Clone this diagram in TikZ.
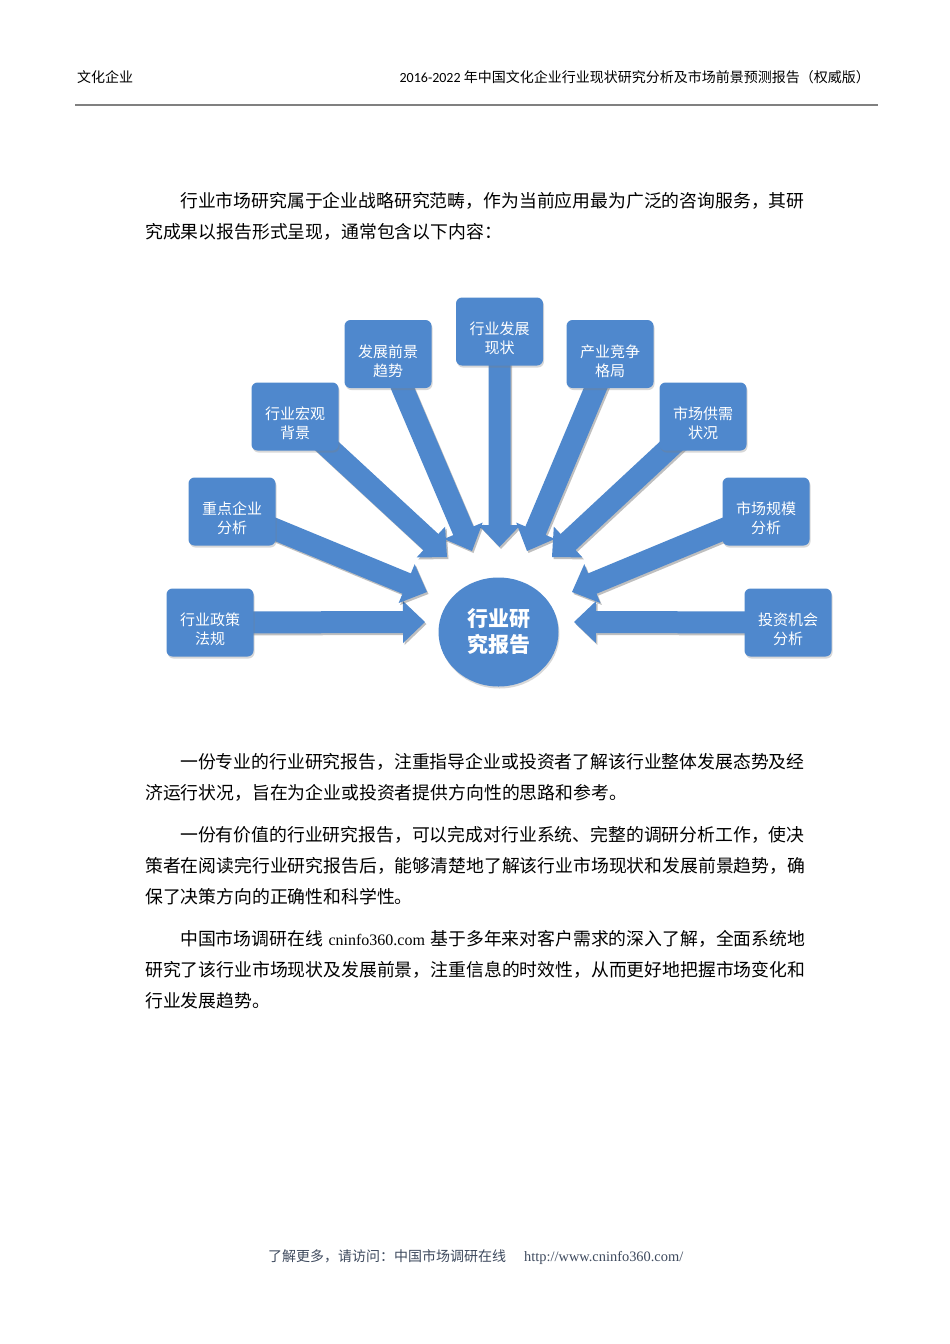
\documentclass[tikz,border=0pt]{standalone}
\usepackage{fontspec}
\setmainfont{Liberation Serif}
\newfontfamily\cjk{Noto Sans CJK SC}
\newfontfamily\hdrfont{Carlito}
\usetikzlibrary{calc,shadows,shapes.geometric}
\definecolor{boxblue}{HTML}{4F88CD}
\definecolor{footc}{HTML}{3E4A5E}
\definecolor{rulegray}{HTML}{808080}
\newcommand{\blockarrow}[2]{%
  \coordinate (hb) at ($(#2)!22pt!(#1)$);
  \foreach \sh/\col/\op in {{(1.5pt,-2pt)}/black/0.25,{(0pt,0pt)}/boxblue/1}{
    \fill[\col, fill opacity=\op, transform canvas={shift={\sh}}]
      ($(#1)!11pt!90:(#2)$) -- ($(hb)!11pt!90:(#2)$) -- ($(hb)!21pt!90:(#2)$)
      -- (#2) -- ($(hb)!21pt!-90:(#2)$) -- ($(hb)!11pt!-90:(#2)$)
      -- ($(#1)!11pt!-90:(#2)$) -- cycle;
  }%
}
\tikzset{
  infobox/.style={fill=boxblue, rounded corners=6pt, minimum width=87pt,
    minimum height=68pt, inner sep=0pt,
    drop shadow={shadow xshift=1pt, shadow yshift=-2pt, opacity=0.3}},
  boxlabel/.style={text=white, font=\cjk\fontsize{15}{19}\selectfont,
    align=center, inner sep=0pt},
  hub/.style={ellipse, fill=boxblue, minimum width=120pt, minimum height=109pt,
    inner sep=0pt, text=white, align=center,
    font=\cjk\bfseries\fontsize{21}{26}\selectfont,
    drop shadow={shadow xshift=1pt, shadow yshift=-2pt, opacity=0.3}},
  bodyline/.style={anchor=base west, inner sep=0pt,
    font=\cjk\fontsize{17.84}{20}\selectfont},
  headtext/.style={inner sep=0pt, font=\cjk\fontsize{14}{16}\selectfont},
}
\begin{document}
\begin{tikzpicture}[x=1pt,y=-1pt]
\useasboundingbox (0,0) rectangle (950,1344);
\fill[white] (0,0) rectangle (950,1344);

% header
\node[headtext, anchor=base west] (hl) at (77,82.5) {文化企业};
\node[headtext, anchor=base east] (hr) at (870,82.5)
  {{\hdrfont 2016-2022} 年中国文化企业行业现状研究分析及市场前景预测报告（权威版）};
\coordinate (rl) at (75,105);
\coordinate (rr) at (878,105);
\draw[rulegray, line width=1.5pt] (rl) -- (rr);

% intro paragraph
\node[bodyline] (p1a) at (180,207.5)
  {行业市场研究属于企业战略研究范畴，作为当前应用最为广泛的咨询服务，其研};
\node[bodyline] (p1b) at (145,238.5) {究成果以报告形式呈现，通常包含以下内容：};

% diagram coordinates
\coordinate (t1) at (425,622);
\coordinate (t2) at (427,592);
\coordinate (t3) at (447,557);
\coordinate (t4) at (472,551);
\coordinate (t5) at (499.5,547);
\coordinate (t6) at (527,551);
\coordinate (t7) at (552,557);
\coordinate (t8) at (572,592);
\coordinate (t9) at (574,622);

\coordinate (c1) at (210,622.5);
\coordinate (c2) at (232,511.5);
\coordinate (c3) at (295,416.5);
\coordinate (c4) at (388,354);
\coordinate (c5) at (499.5,331.5);
\coordinate (c6) at (610,354);
\coordinate (c7) at (703,416.5);
\coordinate (c8) at (766,511.5);
\coordinate (c9) at (788,622.5);

% arrows
\blockarrow{c1}{t1}
\blockarrow{c2}{t2}
\blockarrow{c3}{t3}
\blockarrow{c4}{t4}
\blockarrow{c5}{t5}
\blockarrow{c6}{t6}
\blockarrow{c7}{t7}
\blockarrow{c8}{t8}
\blockarrow{c9}{t9}

% boxes
\node[infobox] (b1) at (c1) {};
\node[infobox] (b2) at (c2) {};
\node[infobox] (b3) at (c3) {};
\node[infobox] (b4) at (c4) {};
\node[infobox] (b5) at (c5) {};
\node[infobox] (b6) at (c6) {};
\node[infobox] (b7) at (c7) {};
\node[infobox] (b8) at (c8) {};
\node[infobox] (b9) at (c9) {};

\node[boxlabel] (l1) at ($(b1)+(0,7)$) {行业政策\\法规};
\node[boxlabel] (l2) at ($(b2)+(0,7)$) {重点企业\\分析};
\node[boxlabel] (l3) at ($(b3)+(0,7)$) {行业宏观\\背景};
\node[boxlabel] (l4) at ($(b4)+(0,7)$) {发展前景\\趋势};
\node[boxlabel] (l5) at ($(b5)+(0,7)$) {行业发展\\现状};
\node[boxlabel] (l6) at ($(b6)+(0,7)$) {产业竞争\\格局};
\node[boxlabel] (l7) at ($(b7)+(0,7)$) {市场供需\\状况};
\node[boxlabel] (l8) at ($(b8)+(0,7)$) {市场规模\\分析};
\node[boxlabel] (l9) at ($(b9)+(0,7)$) {投资机会\\分析};

\node[hub] (hub) at (498.5,632) {行业研\\究报告};

% paragraphs
\node[bodyline] (p2a) at (180,768.5)
  {一份专业的行业研究报告，注重指导企业或投资者了解该行业整体发展态势及经};
\node[bodyline] (p2b) at (145,799.5) {济运行状况，旨在为企业或投资者提供方向性的思路和参考。};

\node[bodyline] (p3a) at (180,841.5)
  {一份有价值的行业研究报告，可以完成对行业系统、完整的调研分析工作，使决};
\node[bodyline] (p3b) at (145,872.5)
  {策者在阅读完行业研究报告后，能够清楚地了解该行业市场现状和发展前景趋势，确};
\node[bodyline] (p3c) at (145,903.5) {保了决策方向的正确性和科学性。};

\node[bodyline] (p4a) at (180,945.5)
  {\makebox[625pt][s]{中国市场调研在线 {\rmfamily\fontsize{16}{20}\selectfont cninfo360.com} 基于多年来对客户需求的深入了解，全面系统地}};
\node[bodyline] (p4b) at (145,976.5)
  {研究了该行业市场现状及发展前景，注重信息的时效性，从而更好地把握市场变化和};
\node[bodyline] (p4c) at (145,1007.5) {行业发展趋势。};

% footer
\node[headtext, anchor=base west, text=footc] (foot) at (268,1261)
  {了解更多，请访问：中国市场调研在线\hspace{18pt}{\rmfamily\fontsize{14.4}{16}\selectfont http://www.cninfo360.com/}};
\end{tikzpicture}
\end{document}
